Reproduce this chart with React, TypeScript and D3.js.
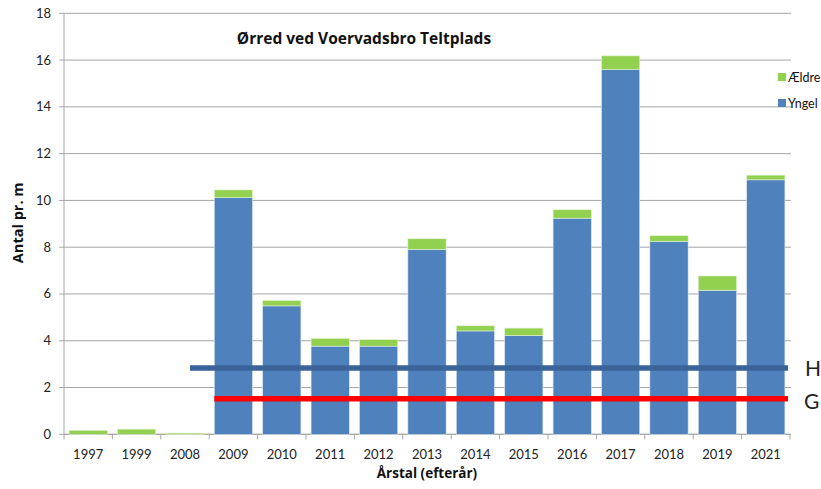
import React from "react";
import * as d3 from "d3";

const categories = ["1997","1999","2008","2009","2010","2011","2012","2013","2014","2015","2016","2017","2018","2019","2021"];
const yngel = [0, 0, 0, 10.12, 5.49, 3.77, 3.77, 7.91, 4.42, 4.22, 9.24, 15.6, 8.25, 6.16, 10.88];
const aeldre = [0.17, 0.22, 0.05, 0.33, 0.23, 0.33, 0.28, 0.45, 0.22, 0.32, 0.36, 0.58, 0.24, 0.61, 0.2];
const yTicks = [0, 2, 4, 6, 8, 10, 12, 14, 16, 18];
const refBlue = 2.83;
const refRed = 1.52;
const seriesNames = ["Ældre", "Yngel"];
const sideLabels = ["H", "G"];

const W = 821, H = 489;
const L = 64, R = 790, T = 13.3, B = 434.3;
const FONT = "Lato, 'Open Sans', sans-serif";
const BOLD = "'Open Sans', Lato, sans-serif";
const BLUE = "#4F81BD", GREEN = "#92D050";

export default function App() {
  const x = d3.scaleBand<string>().domain(categories).range([L, R]).paddingInner(0.21).paddingOuter(0.105);
  const y = d3.scaleLinear().domain([0, 18]).range([B, T]);
  const step = x.step();
  const stacked = categories.map((c, i) => ({ c, y0: yngel[i], a: aeldre[i] }));
  return (
    <svg width={W} height={H} style={{ position: "absolute", left: 0, top: 0 }}>
      <rect width={W} height={H} fill="#fff" />
      {yTicks.map(t => (
        <g key={t}>
          <line x1={L} x2={791} y1={y(t)} y2={y(t)} stroke="#a6a6a6" strokeWidth={1} />
          <line x1={59} x2={L} y1={y(t)} y2={y(t)} stroke="#a6a6a6" />
          <text x={51} y={y(t) + 4.5} textAnchor="end" fontFamily={FONT} fontSize={13} fill="#222">{t}</text>
        </g>
      ))}
      <line x1={L} x2={L} y1={T} y2={B} stroke="#a6a6a6" />
      <line x1={L} x2={R} y1={B} y2={B} stroke="#a6a6a6" />
      {d3.range(categories.length + 1).map(k => (
        <line key={k} x1={L + k * step} x2={L + k * step} y1={B} y2={B + 5} stroke="#a6a6a6" />
      ))}
      {stacked.map(d => (
        <g key={d.c}>
          {d.y0 > 0 && (
            <rect x={x(d.c)} width={x.bandwidth()} y={y(d.y0)} height={y(0) - y(d.y0)} fill={BLUE} stroke="#dce6f2" strokeWidth={0.6} />
          )}
          <rect x={x(d.c)} width={x.bandwidth()} y={y(d.y0 + d.a)} height={y(d.y0) - y(d.y0 + d.a)} fill={GREEN} stroke="#e4f2d4" strokeWidth={0.6} />
          <text x={(x(d.c) as number) + x.bandwidth() / 2} y={459} textAnchor="middle" fontFamily={FONT} fontSize={13} fill="#222">{d.c}</text>
        </g>
      ))}
      <line x1={190} x2={788} y1={y(refBlue)} y2={y(refBlue)} stroke="#3A6499" strokeWidth={5.5} />
      <line x1={x("2009")} x2={788} y1={y(refRed)} y2={y(refRed)} stroke="#FF0000" strokeWidth={5.5} />
      <text x={805} y={y(refBlue) + 8} fontFamily={FONT} fontSize={21} fill="#222">{sideLabels[0]}</text>
      <text x={804} y={y(refRed) + 10} fontFamily={FONT} fontSize={21} fill="#222">{sideLabels[1]}</text>
      <text x={364} y={44} textAnchor="middle" fontFamily={BOLD} fontWeight="bold" fontSize={15.5} fill="#111">Ørred ved Voervadsbro Teltplads</text>
      <text transform={`translate(23,${(T + B) / 2 - 1}) rotate(-90)`} textAnchor="middle" fontFamily={BOLD} fontWeight="bold" fontSize={14.5} fill="#111">Antal pr. m</text>
      <text x={427} y={478} textAnchor="middle" fontFamily={BOLD} fontWeight="bold" fontSize={13.5} fill="#111">Årstal (efterår)</text>
      {seriesNames.map((s, i) => (
        <g key={s}>
          <rect x={778} y={73 + i * 26} width={8} height={8} fill={i === 0 ? GREEN : BLUE} />
          <text x={788} y={82 + i * 26} fontFamily={FONT} fontSize={12.5} fill="#111">{s}</text>
        </g>
      ))}
    </svg>
  );
}
